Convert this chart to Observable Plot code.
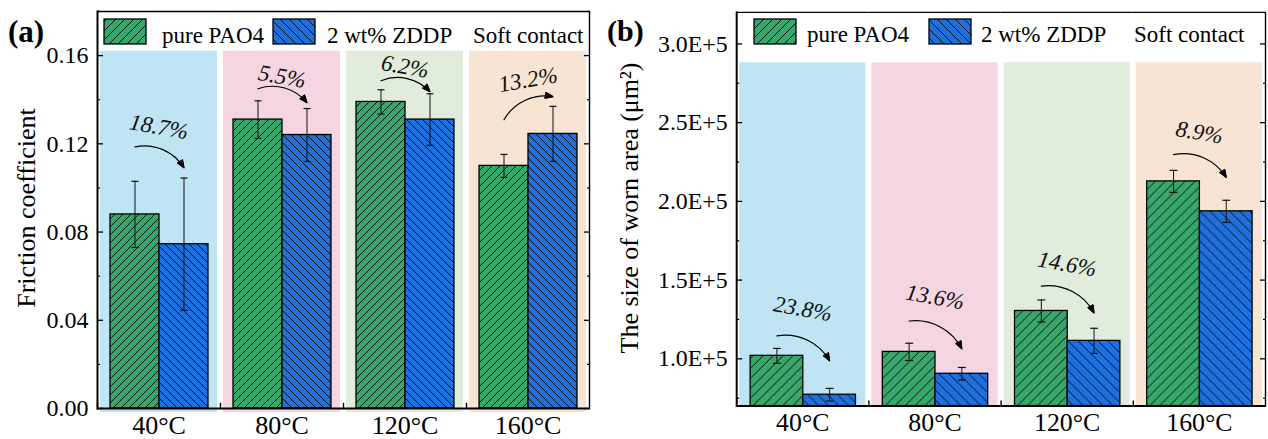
<!DOCTYPE html>
<html><head><meta charset="utf-8">
<script src="https://cdn.jsdelivr.net/npm/d3@7"></script>
<script src="https://cdn.jsdelivr.net/npm/@observablehq/plot@0.6"></script>
<style>
html,body{margin:0;padding:0;background:#fff;overflow:hidden;}
#wrap{position:relative;width:1268px;height:439px;overflow:hidden;}
#pa,#pb,#ov{position:absolute;top:0;}
#pa{left:0px}
#pb{left:600px}
#ov{left:0px;pointer-events:none}
#ov text{font-family:"Liberation Serif","Times New Roman",serif;fill:#000}
</style></head><body>
<div id="wrap"><div id="pa"></div><div id="pb"></div><svg id="ov" width="1268" height="439"></svg></div>
<script>
// ---------- data ----------
const temps = ["40°C", "80°C", "120°C", "160°C"];
const series = ["pure PAO4", "2 wt% ZDDP"];

// (a) friction coefficient
const frictionPAO = [0.088, 0.131, 0.139, 0.110];
const frictionPAOErr = [0.015, 0.0085, 0.0055, 0.0052];
const frictionZDDP = [0.0745, 0.124, 0.131, 0.1245];
const frictionZDDPErr = [0.030, 0.012, 0.0117, 0.0125];
const frictionChange = ["18.7%", "5.5%", "6.2%", "13.2%"];
const frictionLabelY = [0.1277, 0.1505, 0.155, 0.149];
const frictionArrowFrom = [0.1186, 0.145, 0.1486, 0.1309];
const frictionArrowTo = [0.1091, 0.1386, 0.1436, 0.1414];
const frictionTicks = [0, 0.04, 0.08, 0.12, 0.16];
const frictionMinor = [0.02, 0.06, 0.10, 0.14, 0.18];

// (b) worn area
const wearPAO = [101900, 104400, 130400, 212700];
const wearPAOErr = [4700, 5500, 7000, 7000];
const wearZDDP = [77200, 90500, 111400, 193700];
const wearZDDPErr = [4000, 4000, 8000, 7000];
const wearChange = ["23.8%", "13.6%", "14.6%", "8.9%"];
const wearLabelY = [131650, 139200, 160100, 243700];
const wearArrowFrom = [114600, 124000, 146200, 229700];
const wearArrowTo = [98700, 106300, 129100, 215200];
const wearTicks = [100000, 150000, 200000, 250000, 300000];
const wearMinor = [75000, 125000, 175000, 225000, 275000];

const bandColors = ["#bfe5f5", "#f6d5e2", "#e2ecdc", "#f8e4d3"];
const greenColor = "#36a86b";
const blueColor = "#1f6fdd";

// ---------- helpers ----------
function rows(vals, errs, s) {
  return temps.map((t, i) => ({temp: t, series: s, value: vals[i], lo: vals[i] - errs[i], hi: vals[i] + errs[i]}));
}
const capSymbol = {draw(ctx, size) { const r = Math.sqrt(size / Math.PI); ctx.moveTo(-r, 0); ctx.lineTo(r, 0); }};

function hatchDefs(sel, idp, s, stroke) {
  const defs = sel.insert("defs", ":first-child");
  [["g", greenColor, "/"], ["b", blueColor, "\\"]].forEach(([k, col, dir]) => {
    const p = defs.append("pattern").attr("id", idp + k).attr("patternUnits", "userSpaceOnUse")
      .attr("width", s).attr("height", s);
    p.append("rect").attr("width", s).attr("height", s).attr("fill", col);
    const q = s / 4;
    const d = dir === "/"
      ? `M0,${s}L${s},0M${-q},${q}L${q},${-q}M${s - q},${s + q}L${s + q},${s - q}`
      : `M0,0L${s},${s}M${-q},${s - q}L${q},${s + q}M${s - q},${-q}L${s + q},${q}`;
    p.append("path").attr("d", d).attr("stroke", stroke).attr("stroke-width", 1).attr("fill", "none");
  });
}

function panel(o) {
  const bars = [...rows(o.pao, o.paoErr, series[0]), ...rows(o.zddp, o.zddpErr, series[1])];
  const bands = temps.map((t, i) => ({temp: t, color: bandColors[i]}));
  const arrows = temps.map((t, i) => ({temp: t, y1: o.arrowFrom[i], y2: o.arrowTo[i]}));
  const labels = temps.map((t, i) => ({temp: t, y: o.labelY[i], label: o.change[i],
    rot: o.arrowTo[i] > o.arrowFrom[i] ? -10 : 10}));
  const y0 = o.yDomain[0], y1 = o.yDomain[1];
  const frameH = 439 - 31 - o.marginTop;
  const noText = () => "";
  const svg = Plot.plot({
    width: o.width, height: 439,
    marginLeft: o.marginLeft, marginRight: o.marginRight, marginTop: o.marginTop, marginBottom: 31,
    style: {fontFamily: "'Liberation Serif', 'Times New Roman', serif", fontSize: "24px", background: "transparent", color: "#000", overflow: "visible"},
    fx: {domain: temps, padding: 0, label: null},
    x: {domain: series, paddingInner: 0, paddingOuter: 0.25, axis: null},
    y: {domain: o.yDomain, label: null},
    color: {type: "identity"},
    marks: [
      Plot.barY(bands, {fx: "temp", y1: y0, y2: o.bandTop, fill: "color", insetLeft: 3, insetRight: 3, insetBottom: o.bandExtend}),
      Plot.barY(bars.filter(d => d.series === series[0]), {fx: "temp", x: "series", y1: y0, y2: "value", fill: `url(#${o.idp}g)`, stroke: "#000", strokeWidth: 1.3}),
      Plot.barY(bars.filter(d => d.series === series[1]), {fx: "temp", x: "series", y1: y0, y2: "value", fill: `url(#${o.idp}b)`, stroke: "#000", strokeWidth: 1.3}),
      Plot.ruleX(bars, {fx: "temp", x: "series", y1: "lo", y2: "hi", stroke: "#111", strokeWidth: 1}),
      Plot.dot(bars, {fx: "temp", x: "series", y: "lo", symbol: capSymbol, r: o.capR, stroke: "#111", strokeWidth: 1.2}),
      Plot.dot(bars, {fx: "temp", x: "series", y: "hi", symbol: capSymbol, r: o.capR, stroke: "#111", strokeWidth: 1.2}),
      Plot.arrow(arrows, {fx: "temp", x1: () => series[0], x2: () => series[1], y1: "y1", y2: "y2", bend: 35, headLength: 10, headAngle: 42, stroke: "#000", strokeWidth: 1.2}),
      Plot.text(labels, {fx: "temp", y: "y", text: "label", rotate: "rot", fontStyle: "italic", fontSize: 23, fill: "#111"}),
      Plot.ruleY([y0], {stroke: "#000", strokeWidth: 2}),
      Plot.ruleY([y1], {stroke: "#000", strokeWidth: 1.4}),
      Plot.frame({anchor: "left", facetAnchor: "left", stroke: "#000", strokeWidth: 2}),
      Plot.frame({anchor: "right", facetAnchor: "right", stroke: "#000", strokeWidth: 1.4}),
      Plot.frame({anchor: "left", insetTop: frameH - 5, stroke: "#000", strokeWidth: 1.4}),
      Plot.axisY(o.ticks, {anchor: "left", tickSize: -6, tickFormat: o.fmt, fontSize: 24, label: null, strokeWidth: 1.3}),
      Plot.axisY(o.minor, {anchor: "left", tickSize: -3, tickFormat: noText, label: null, strokeWidth: 1.2}),
      Plot.axisY(o.ticks, {anchor: "right", tickSize: -6, tickFormat: noText, label: null, strokeWidth: 1.3}),
      Plot.axisY(o.minor, {anchor: "right", tickSize: -3, tickFormat: noText, label: null, strokeWidth: 1.2}),
      Plot.axisFx({anchor: "bottom", tickSize: 0, tickPadding: 7, fontSize: 26, label: null})
    ]
  });
  const s = d3.select(svg);
  hatchDefs(s, o.idp, o.hatch, "#111");
  // fill the arrow heads
  s.selectAll('g[aria-label="arrow"] path').each(function () {
    const d = this.getAttribute("d") || "";
    const m = d.match(/M([-\d.e]+),([-\d.e]+)L([-\d.e]+),([-\d.e]+)L([-\d.e]+),([-\d.e]+)$/);
    if (m) d3.select(this.parentNode).append("path")
      .attr("d", `M${m[1]},${m[2]}L${m[3]},${m[4]}L${m[5]},${m[6]}Z`)
      .attr("fill", "#000").attr("stroke", "#000").attr("stroke-width", 1);
  });
  return svg;
}

document.getElementById("pa").append(panel({
  idp: "ha", width: 600, marginLeft: 96, marginRight: 11, marginTop: 11,
  pao: frictionPAO, paoErr: frictionPAOErr, zddp: frictionZDDP, zddpErr: frictionZDDPErr,
  change: frictionChange, labelY: frictionLabelY, arrowFrom: frictionArrowFrom, arrowTo: frictionArrowTo,
  yDomain: [0, 0.18], bandTop: 0.162, bandExtend: -4, ticks: frictionTicks, minor: frictionMinor,
  fmt: d3.format(".2f"), capR: 3.5, hatch: 8
}));
document.getElementById("pb").append(panel({
  idp: "hb", width: 672, marginLeft: 135, marginRight: 2, marginTop: 12,
  pao: wearPAO, paoErr: wearPAOErr, zddp: wearZDDP, zddpErr: wearZDDPErr,
  change: wearChange, labelY: wearLabelY, arrowFrom: wearArrowFrom, arrowTo: wearArrowTo,
  yDomain: [70000, 320000], bandTop: 288000, bandExtend: 0, ticks: wearTicks, minor: wearMinor,
  fmt: d => (d / 1e5).toFixed(1) + "E+5", capR: 4, hatch: 10
}));

// ---------- overlay: panel letters, axis titles, legends ----------
const ov = d3.select("#ov");
hatchDefs(ov, "lg", 9, "#111");
ov.append("text").attr("x", 8).attr("y", 42).attr("font-size", 31).attr("font-weight", "bold").text("(a)");
ov.append("text").attr("x", 607).attr("y", 41).attr("font-size", 30).attr("font-weight", "bold").text("(b)");
ov.append("text").attr("transform", "translate(35,208) rotate(-90)").attr("text-anchor", "middle")
  .attr("font-size", 26).text("Friction coefficient");
ov.append("text").attr("transform", "translate(638,208) rotate(-90)").attr("text-anchor", "middle")
  .attr("font-size", 26).text("The size of worn area (μm²)");

const legends = [
  {sw: [104, 273], tx: [162, 327, 473], base: 43},
  {sw: [754, 929], tx: [807, 981, 1134], base: 42}
];
const legendText = [...series, "Soft contact"];
legends.forEach(L => {
  L.sw.forEach((x, i) => {
    ov.append("rect").attr("x", x).attr("y", 19).attr("width", 42).attr("height", 25)
      .attr("fill", i === 0 ? "url(#lgg)" : "url(#lgb)").attr("stroke", "#000").attr("stroke-width", 1.3);
  });
  L.tx.forEach((x, i) => {
    ov.append("text").attr("x", x).attr("y", L.base).attr("font-size", 23).text(legendText[i]);
  });
});
</script>
</body></html>
